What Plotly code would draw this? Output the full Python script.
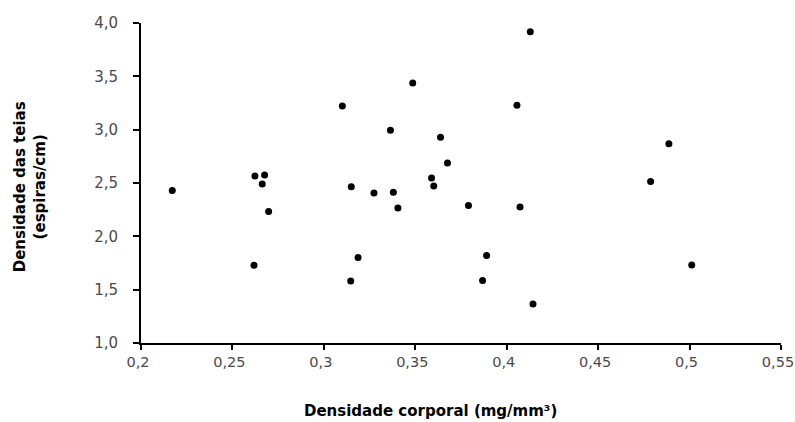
import plotly.graph_objects as go

# Body density (mg/mm³) vs web density (spirals/cm)
densidade_corporal = [
    0.2171, 0.2623, 0.2676, 0.2663, 0.2698, 0.2618, 0.3101, 0.3150, 0.3147, 0.3187,
    0.3274, 0.3364, 0.3380, 0.3405, 0.3486, 0.3589, 0.3601, 0.3638, 0.3676, 0.3791,
    0.3868, 0.3890, 0.4056, 0.4073, 0.4129, 0.4144, 0.4787, 0.4887, 0.5012,
]
densidade_teias = [
    2.429, 2.566, 2.575, 2.491, 2.232, 1.728, 3.222, 2.466, 1.581, 1.801,
    2.406, 2.994, 2.413, 2.266, 3.438, 2.546, 2.471, 2.928, 2.688, 2.290,
    1.585, 1.821, 3.228, 2.275, 3.919, 1.366, 2.513, 2.869, 1.731,
]

x_tick_vals = [0.2, 0.25, 0.3, 0.35, 0.4, 0.45, 0.5, 0.55]
x_tick_labels = ["0,2", "0,25", "0,3", "0,35", "0,4", "0,45", "0,5", "0,55"]
y_tick_vals = [1.0, 1.5, 2.0, 2.5, 3.0, 3.5, 4.0]
y_tick_labels = ["1,0", "1,5", "2,0", "2,5", "3,0", "3,5", "4,0"]

x_title = "Densidade corporal (mg/mm³)"
y_title = "Densidade das teias<br>(espiras/cm)"

fig = go.Figure()
fig.add_trace(go.Scatter(
    x=densidade_corporal, y=densidade_teias, mode="markers",
    marker=dict(color="black", size=7), showlegend=False,
))

tick_font = dict(family="DejaVu Sans", size=15, color="#4a4a4a")
fig.update_layout(
    width=795, height=422,
    margin=dict(l=141, r=14, t=23, b=79, autoexpand=False),
    paper_bgcolor="white", plot_bgcolor="white",
    xaxis=dict(
        range=[0.2, 0.55001], tickvals=x_tick_vals, ticktext=x_tick_labels,
        showgrid=False, zeroline=False, showline=True, linecolor="black", linewidth=2,
        ticks="outside", ticklen=5, tickwidth=2, tickcolor="black",
        tickfont=dict(family="DejaVu Sans", size=14.5, color="#4a4a4a"),
        ticklabeloverflow="allow", ticklabelshift=-3, automargin=False,
    ),
    yaxis=dict(
        range=[1.0, 4.0001], tickvals=y_tick_vals, ticktext=y_tick_labels,
        showgrid=False, zeroline=False, showline=True, linecolor="black", linewidth=2,
        ticks="outside", ticklen=6, tickwidth=2, tickcolor="black",
        tickfont=tick_font, ticklabelstandoff=12, automargin=False,
    ),
    annotations=[
        dict(text=x_title, xref="paper", yref="paper", x=0.452, y=-0.2125,
             xanchor="center", yanchor="middle", showarrow=False,
             font=dict(family="DejaVu Sans", size=15, color="black", weight="bold")),
        dict(text=y_title, xref="paper", yref="paper", x=-0.173, y=0.4875,
             xanchor="center", yanchor="middle", showarrow=False, textangle=-90,
             font=dict(family="DejaVu Sans", size=15, color="black", weight="bold")),
    ],
)

# remove the default page margin so the figure fills the window exactly
fig.write_html(
    "out.html",
    config={"displayModeBar": False},
    post_script="document.body.style.margin='0';document.body.style.overflow='hidden';",
)
